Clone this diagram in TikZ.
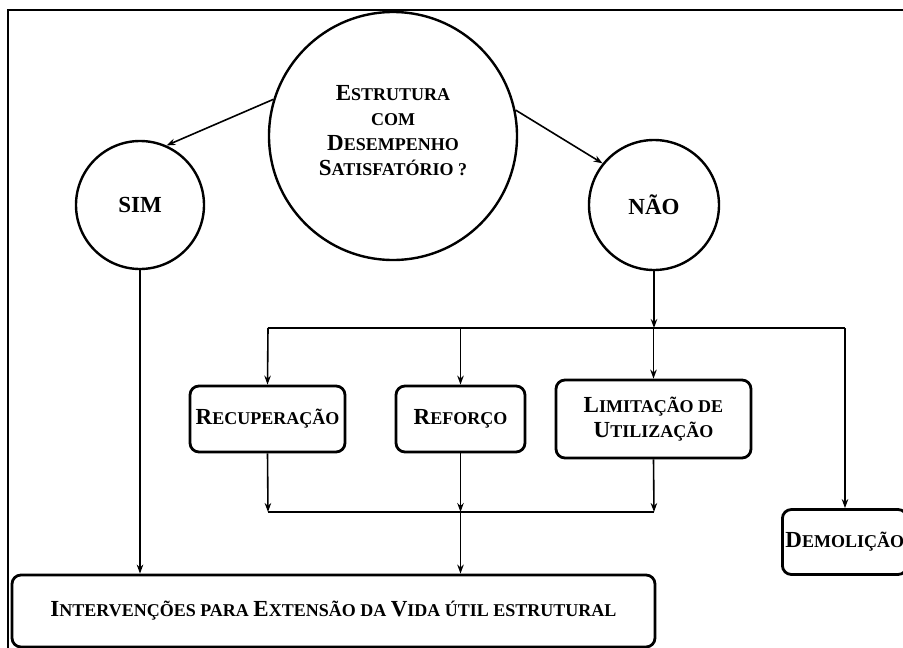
\documentclass[tikz,border=0pt]{standalone}
\usepackage{fontspec}
\setmainfont{Liberation Serif}
\usetikzlibrary{arrows.meta}
\newcommand{\bc}[1]{{\fontsize{23}{25}\selectfont #1}}
\tikzset{
  ball/.style = {circle, draw, line width = 2.4pt, align = center, inner sep = 0pt},
  stepbox/.style = {draw, line width = 2.8pt, rounded corners = 9pt, align = center, inner sep = 0pt},
  link/.style = {line width = 1.6pt},
}
\begin{document}
\begin{tikzpicture}[x = 1pt, y = -1pt, >={Stealth[length=9pt,width=6.5pt]},
  font = \bfseries\fontsize{18}{25}\selectfont]
        \useasboundingbox (0,0) rectangle (903,648);
        \fill[white] (0,0) rectangle (903,648);
        \draw[line width = 1.4pt] (8,10) rectangle (920,660);
        \node[ball, minimum size = 248pt] (main) at (393,136)
             {\bc{E}STRUTURA\\COM\\\bc{D}ESEMPENHO\\\bc{S}ATISFATÓRIO ?\\[-13pt]};
        \node[ball, minimum size = 128pt] (sim) at (140,205) {\bc{SIM}};
        \node[ball, minimum size = 130pt] (nao) at (654,205) {\bc{NÃO}};
        \node[stepbox, minimum width = 155pt, minimum height = 66pt] (rec) at (267.5,419) {\bc{R}ECUPERAÇÃO};
        \node[stepbox, minimum width = 129pt, minimum height = 66pt] (ref) at (460.5,419) {\bc{R}EFORÇO};
        \node[stepbox, minimum width = 195pt, minimum height = 78pt] (lim) at (653.5,419)
             {\bc{L}IMITAÇÃO DE\\\bc{U}TILIZAÇÃO};
        \node[stepbox, anchor = west, inner xsep = 3pt, minimum height = 65pt] (dem) at (781,542) {\bc{D}EMOLIÇÃO};
        \node[stepbox, minimum width = 643pt, minimum height = 72pt] (intv) at (333.5,611)
             {\bc{I}NTERVENÇÕES PARA \bc{E}XTENSÃO DA \bc{V}IDA ÚTIL ESTRUTURAL};
        \coordinate (topL) at (268,328);
        \coordinate (topR) at (845,328);
        \coordinate (botL) at (268,512);
        \coordinate (botM) at (460.5,512);
        \coordinate (botR) at (654,512);
        \draw[link, ->] (main.163) -- (sim.66);
        \draw[link, ->] (main.12) -- (nao.141);
        \draw[link, ->] (sim.south) -- (sim.south |- intv.north);
        \draw[link, ->] (nao.south) -- (nao.south |- topL);
        \draw[link] (topL) -- (topR);
        \draw[link, ->] (topL) -- (rec.north);
        \draw[link, ->] (ref.north |- topL) -- (ref.north);
        \draw[link, ->] (lim.north |- topL) -- (lim.north);
        \draw[link, ->] (topR) -- (topR |- dem.north);
        \draw[link] (botL) -- (botR);
        \draw[link, ->] (rec.south) -- (botL);
        \draw[link, ->] (ref.south) -- (botM);
        \draw[link, ->] (lim.south) -- (botR);
        \draw[link, ->] (botM) -- (intv.north -| botM);
\end{tikzpicture}
\end{document}
